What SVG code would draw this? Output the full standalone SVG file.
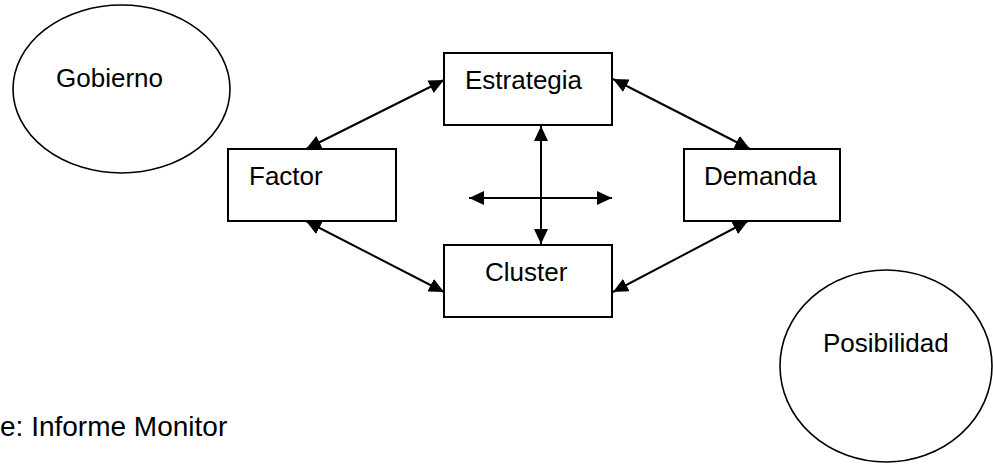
<svg xmlns="http://www.w3.org/2000/svg" width="993" height="464" viewBox="0 0 993 464">
  <defs>
    <marker id="arrow" viewBox="0 0 15 14" refX="15" refY="7" markerWidth="15" markerHeight="14" markerUnits="userSpaceOnUse" orient="auto-start-reverse">
      <path d="M0,0 L15,7 L0,14 Z" fill="#000"/>
    </marker>
    <style>
      .box { fill: #fff; stroke: #000; stroke-width: 2; }
      .oval { fill: #fff; stroke: #000; stroke-width: 1.6; }
      .lbl { font-family: "Liberation Sans", Arial, sans-serif; font-size: 26px; fill: #000; }
      .note { font-family: "Liberation Sans", Arial, sans-serif; font-size: 28px; fill: #000; }
      .link { stroke: #000; stroke-width: 2; fill: none; marker-start: url(#arrow); marker-end: url(#arrow); }
    </style>
  </defs>
  <rect width="993" height="464" fill="#fff"/>

  <g id="gobierno">
    <ellipse class="oval" cx="121.5" cy="89" rx="108.5" ry="84"/>
    <text class="lbl" x="56" y="87">Gobierno</text>
  </g>

  <g id="posibilidad">
    <ellipse class="oval" cx="886" cy="366" rx="106" ry="96"/>
    <text class="lbl" x="823" y="352">Posibilidad</text>
  </g>

  <g id="estrategia">
    <rect class="box" x="444" y="53" width="168" height="72"/>
    <text class="lbl" x="465" y="89">Estrategia</text>
  </g>

  <g id="factor">
    <rect class="box" x="228" y="149" width="168" height="72"/>
    <text class="lbl" x="249" y="185">Factor</text>
  </g>

  <g id="demanda">
    <rect class="box" x="684" y="149" width="156" height="72"/>
    <text class="lbl" x="704" y="185">Demanda</text>
  </g>

  <g id="cluster">
    <rect class="box" x="444" y="245" width="168" height="72"/>
    <text class="lbl" x="485" y="281">Cluster</text>
  </g>

  <g id="connectors">
    <line class="link" x1="306" y1="149" x2="444" y2="80"/>
    <line class="link" x1="613" y1="79" x2="750" y2="149"/>
    <line class="link" x1="306" y1="221" x2="444" y2="292"/>
    <line class="link" x1="748" y1="221" x2="613" y2="292"/>
    <line class="link" x1="541" y1="126" x2="541" y2="244"/>
    <line class="link" x1="469" y1="198" x2="612" y2="198"/>
  </g>

  <text id="fuente" class="note" x="0" y="436">e: Informe Monitor</text>
</svg>
